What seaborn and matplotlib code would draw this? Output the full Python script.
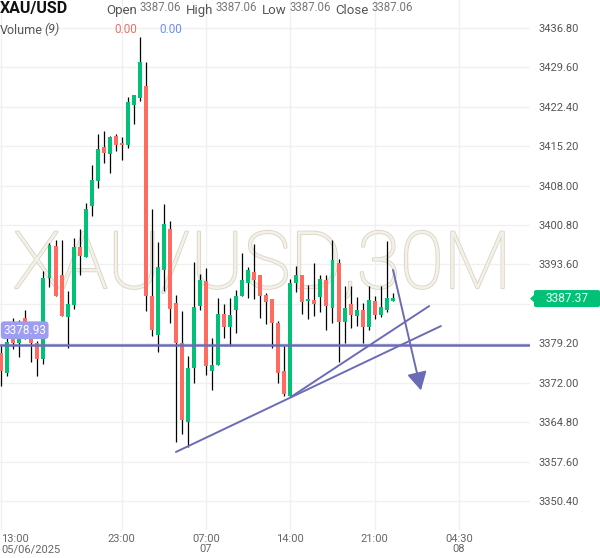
import numpy as np
import matplotlib
matplotlib.use("Agg")
import matplotlib.pyplot as plt
import matplotlib.patheffects as pe
from matplotlib.patches import FancyBboxPatch, Polygon
import seaborn as sns

# ---------------------------------------------------------------------------
# XAU/USD 30-minute candles
# ---------------------------------------------------------------------------
opens = [3377.5, 3373.7, 3380.5, 3379.3, 3383.9, 3380.5, 3379.3, 3376.3, 3391.2, 3396.9,
         3391.7, 3384.0, 3386.2, 3396.7, 3395.0, 3404.2, 3408.8, 3415.0, 3413.8, 3417.0,
         3415.7, 3415.4, 3422.7, 3424.0, 3426.2, 3387.9, 3380.7, 3392.5, 3400.1, 3386.5,
         3379.3, 3364.9, 3374.6, 3386.1, 3390.5, 3374.1, 3375.3, 3384.6, 3382.1, 3385.2,
         3387.9, 3390.2, 3392.3, 3391.6, 3388.1, 3387.2, 3382.9, 3374.1, 3369.5, 3390.3,
         3391.6, 3386.9, 3387.1, 3387.7, 3390.8, 3385.7, 3393.9, 3383.1, 3386.3, 3384.1,
         3385.2, 3382.1, 3387.0, 3384.3, 3385.2, 3386.9]
highs = [3378.7, 3381.5, 3383.8, 3383.5, 3385.2, 3380.7, 3379.6, 3392.4, 3397.5, 3398.1,
         3398.1, 3388.7, 3398.4, 3400.0, 3404.8, 3411.7, 3417.4, 3417.9, 3417.0, 3417.4,
         3416.8, 3424.2, 3424.6, 3435.1, 3430.5, 3403.7, 3397.7, 3404.6, 3401.5, 3388.1,
         3385.1, 3376.9, 3394.0, 3391.9, 3393.0, 3380.2, 3387.5, 3386.3, 3387.4, 3389.0,
         3395.7, 3393.2, 3397.4, 3391.6, 3388.4, 3387.3, 3383.2, 3378.7, 3391.0, 3393.3,
         3391.6, 3389.9, 3393.8, 3391.7, 3391.7, 3398.0, 3394.6, 3389.6, 3389.6, 3387.7,
         3386.6, 3389.6, 3387.8, 3389.6, 3397.8, 3388.4]
lows = [3371.4, 3373.2, 3378.1, 3376.7, 3380.0, 3375.7, 3373.3, 3375.5, 3389.4, 3387.8,
        3384.1, 3378.4, 3385.4, 3391.7, 3395.0, 3402.4, 3407.6, 3412.2, 3410.3, 3414.4,
        3412.7, 3414.8, 3419.2, 3423.5, 3385.1, 3380.6, 3377.6, 3388.8, 3382.9, 3361.1,
        3362.6, 3360.2, 3372.0, 3385.2, 3373.5, 3370.6, 3375.3, 3380.2, 3378.7, 3381.1,
        3387.9, 3387.4, 3387.3, 3383.8, 3382.8, 3378.4, 3371.9, 3369.5, 3369.3, 3388.5,
        3384.5, 3383.7, 3384.1, 3385.0, 3381.7, 3382.9, 3375.8, 3379.3, 3382.0, 3382.3,
        3379.2, 3381.7, 3383.7, 3384.0, 3385.0, 3386.9]
closes = [3374.1, 3379.5, 3379.3, 3380.8, 3381.0, 3379.3, 3376.4, 3391.2, 3397.1, 3387.9,
          3384.1, 3386.3, 3396.7, 3395.1, 3403.8, 3409.1, 3414.7, 3413.9, 3416.8, 3415.4,
          3415.5, 3423.2, 3424.5, 3430.6, 3387.8, 3381.7, 3393.1, 3400.9, 3385.4, 3379.3,
          3365.2, 3374.6, 3385.8, 3390.7, 3375.0, 3375.2, 3384.5, 3382.2, 3384.3, 3387.9,
          3390.7, 3392.6, 3390.8, 3387.9, 3386.7, 3382.9, 3373.8, 3369.9, 3390.3, 3391.6,
          3386.7, 3387.2, 3386.3, 3391.0, 3386.1, 3394.5, 3383.1, 3385.7, 3384.3, 3385.2,
          3382.2, 3387.1, 3384.3, 3385.8, 3387.5, 3387.4]

# time axis labels (candle index -> label)
tick_idx = [0, 20, 34, 48, 62, 76]
tick_labels = ["13:00\n05/06/2025", "23:00", "07:00\n07", "14:00", "21:00", "04:30\n08"]
price_ticks = [3350.40, 3357.60, 3364.80, 3372.00, 3379.20, 3386.40, 3393.60,
               3400.80, 3408.00, 3415.20, 3422.40, 3429.60, 3436.80]

# drawings on the chart: (candle index, price)
support_level = 3378.93
last_price = 3387.37
trend_a = [(29.0, 3359.35), (73.0, 3382.35)]
trend_b = [(48.1, 3369.4), (71.05, 3386.0)]
arrow_pts = [(64.95, 3393.1), (69.8, 3370.1)]

GREEN = "#00c176"
RED = "#ff6b5e"
DRAW = "#6b6bb6"

sns.set_theme(style="white")
plt.rcParams["font.family"] = ["Roboto", "DejaVu Sans"]

fig = plt.figure(figsize=(6, 5.58), dpi=100)
ax = fig.add_axes([0, 28 / 558, 530 / 600, 530 / 558])

o = np.array(opens)
c = np.array(closes)
idx = np.arange(len(o))
up = c >= o
colors = np.where(up, GREEN, RED)
body_low = np.minimum(o, c)
body_h = np.maximum(np.abs(c - o), 0.25)

ax.vlines(idx, lows, highs, color="black", lw=0.9, zorder=3)
ax.bar(idx, body_h, bottom=body_low, width=0.66, color=colors, lw=0, zorder=4)

ax.set_xlim(-0.22, 87.8)
ax.set_ylim(3345.1, 3441.9)

# grid + axes
ax.set_xticks(tick_idx)
ax.set_xticklabels(tick_labels)
ax.set_yticks(price_ticks)
# the 3386.40 label sits under the last-price tag
ax.set_yticklabels(["" if abs(p - 3386.40) < 0.01 else f"{p:.2f}" for p in price_ticks])
ax.yaxis.tick_right()
ax.grid(True, color="#f0f0f0", lw=1, zorder=0)
for s in ax.spines.values():
    s.set_visible(False)
ax.tick_params(axis="y", length=0, pad=6, labelsize=8, labelcolor="#555555")
ax.tick_params(axis="x", length=0, pad=3, labelsize=8, labelcolor="#666666")
for lab in ax.get_xticklabels():
    lab.set_linespacing(1.0)
ax.get_xticklabels()[0].set_horizontalalignment("left")

# watermark
ax.text(0.495, 1 - 288 / 530, "XAU/USD,30M", transform=ax.transAxes,
        ha="center", va="baseline", fontsize=57, fontweight="light",
        color="#f3f1ea", zorder=1,
        path_effects=[pe.withStroke(linewidth=1.6, foreground="#ddd8c8"),
                      pe.Normal()])

# drawings
ax.axhline(support_level, color=DRAW, lw=1.8, zorder=5)
for seg in (trend_a, trend_b):
    xs, ys = zip(*seg)
    ax.plot(xs, ys, color=DRAW, lw=1.4, zorder=5)
ax.annotate("", xy=arrow_pts[1], xytext=arrow_pts[0],
            arrowprops=dict(arrowstyle="-|>,head_length=0.55,head_width=0.3",
                            mutation_scale=20, lw=1.4, color=DRAW), zorder=6)

# price labels
ax.annotate(f"{support_level:.2f}", xy=(0.006, support_level),
            xycoords=("axes fraction", "data"), xytext=(0, 10.5),
            textcoords="offset points", ha="left", va="center",
            fontsize=8.5, color="white", zorder=7,
            bbox=dict(boxstyle="round,pad=0.2,rounding_size=0.3",
                      fc="#9d9df2", ec="none"))

# last price tag on the right axis (pixel coordinates)
fig.canvas.draw()
ytag = ax.transData.transform((0, last_price))[1]
fig.patches.append(FancyBboxPatch((534, ytag - 8.5), 66, 17,
                                  boxstyle="round,pad=0,rounding_size=2",
                                  fc=GREEN, ec="none", transform=None,
                                  figure=fig, zorder=5))
fig.patches.append(Polygon([(530, ytag), (535, ytag - 4.5), (535, ytag + 4.5)],
                           closed=True, fc=GREEN, ec="none", transform=None,
                           figure=fig, zorder=5))
fig.text(566.5 / 600, ytag / 558, f"{last_price:.2f}", fontsize=8.5,
         color="white", ha="center", va="center", zorder=6)

# header
def px(x, y):
    return x / 600, 1 - y / 558

fig.text(*px(0, 13.5), "XAU/USD", fontsize=11.5, fontweight="bold",
         color="#111111", va="baseline")
hdr = [(106, "Open"), (186, "High"), (262, "Low"), (335, "Close")]
vals = [139, 216, 289, 371]
for (x, name), vx in zip(hdr, vals):
    fig.text(*px(x, 14), name, fontsize=9.5, color="#555555", va="baseline")
    fig.text(*px(vx, 11), "3387.06", fontsize=8.3, color="#777777",
             va="baseline")
fig.text(*px(0, 33.5), "Volume", fontsize=9, color="#555555", va="baseline")
fig.text(*px(44, 33.5), "(9)", fontsize=9, color="#555555", va="baseline",
         style="italic")
fig.text(*px(114, 33), "0.00", fontsize=8.5, color="#e57368", va="baseline")
fig.text(*px(159, 33), "0.00", fontsize=8.5, color="#6b8ef0", va="baseline")

plt.savefig("out.png", dpi=100)
